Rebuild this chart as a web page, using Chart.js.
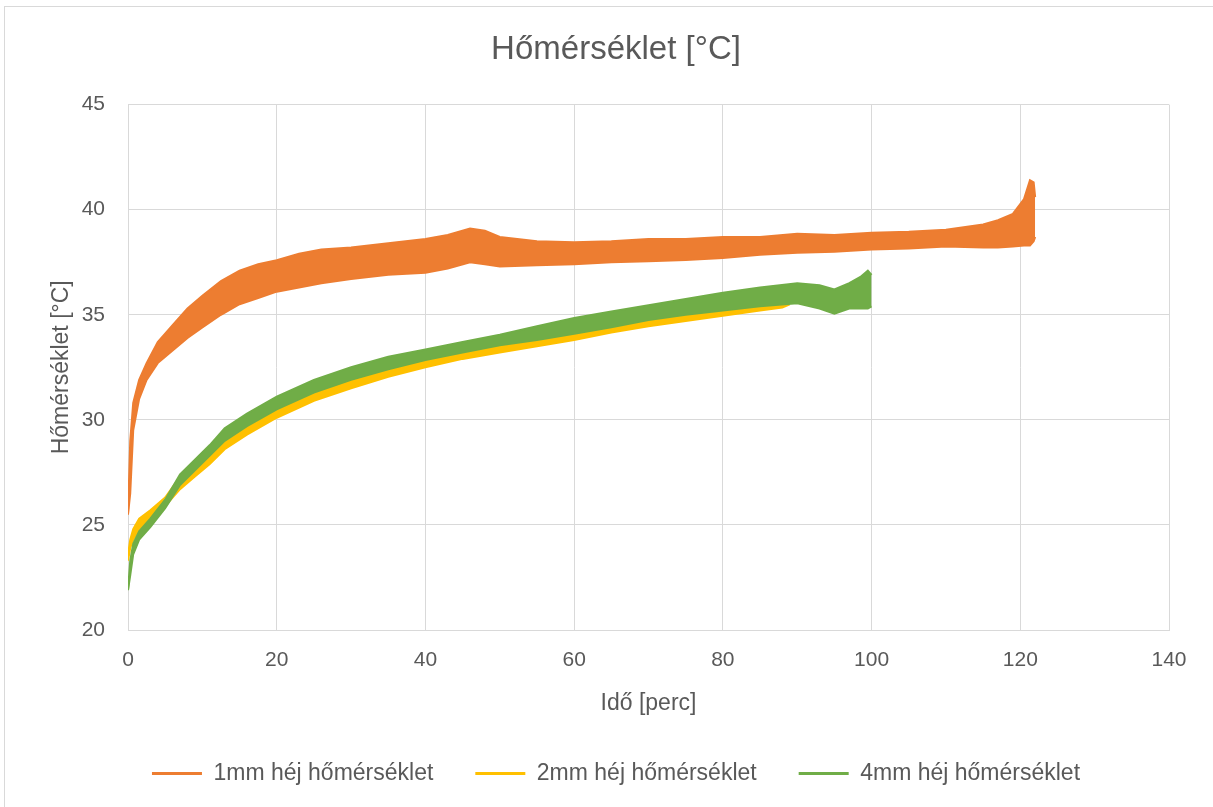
<!DOCTYPE html>
<html>
<head>
<meta charset="utf-8">
<script src="https://cdn.jsdelivr.net/npm/chart.js@4.4.1/dist/chart.umd.min.js"></script>
<style>
  html, body { margin: 0; padding: 0; background: #ffffff; }
  #wrap { position: relative; width: 1213px; height: 807px; }
  #frame { position: absolute; left: 4px; top: 6px; width: 1300px; height: 900px;
           border-left: 1px solid #d9d9d9; border-top: 1px solid #d9d9d9; pointer-events: none; }
  canvas { position: absolute; left: 0; top: 0; }
</style>
</head>
<body>
<div id="wrap">
  <canvas id="c" width="1213" height="807"></canvas>
  <div id="frame"></div>
</div>
<script>
// ---- Data (time in minutes, band edges in °C) ----
const seriesLabels = ['1mm héj hőmérséklet', '2mm héj hőmérséklet', '4mm héj hőmérséklet'];

const time1mm = [0, 0.3, 0.7, 1.5, 2.5, 4, 6, 8, 10, 12.5, 15, 17.5, 20, 23, 26, 30, 35, 40, 43, 46, 48, 50, 55, 60, 65, 70, 75, 80, 85, 90, 95, 100, 105, 110, 115, 117, 119, 120.5, 121.3, 121.8, 122];
const upper1mm = [25.5, 29.0, 30.8, 31.9, 32.7, 33.7, 34.5, 35.3, 35.9, 36.6, 37.1, 37.4, 37.6, 37.9, 38.1, 38.2, 38.4, 38.6, 38.8, 39.1, 39.0, 38.7, 38.5, 38.45, 38.5, 38.6, 38.6, 38.7, 38.7, 38.85, 38.8, 38.9, 38.95, 39.05, 39.3, 39.5, 39.8, 40.5, 41.4, 41.3, 40.6];
const lower1mm = [25.5, 26.5, 29.5, 31.0, 31.9, 32.7, 33.3, 33.9, 34.4, 35.0, 35.5, 35.8, 36.1, 36.3, 36.5, 36.7, 36.9, 37.0, 37.2, 37.5, 37.4, 37.3, 37.35, 37.4, 37.5, 37.55, 37.6, 37.7, 37.85, 37.95, 38.0, 38.1, 38.15, 38.25, 38.2, 38.2, 38.25, 38.3, 38.3, 38.5, 38.7];

const time2mm = [0, 0.3, 0.7, 1.5, 3, 5, 7, 9, 11, 13, 16, 20, 25, 30, 35, 40, 45, 50, 55, 60, 65, 70, 75, 80, 85, 88, 89];
const upper2mm = [23.6, 24.3, 24.8, 25.3, 25.7, 26.3, 27.3, 28.0, 28.6, 29.3, 30.0, 30.8, 31.6, 32.2, 32.7, 33.1, 33.4, 33.75, 34.1, 34.4, 34.7, 35.0, 35.3, 35.5, 35.7, 35.8, 35.8];
const lower2mm = [23.3, 23.9, 24.3, 24.8, 25.3, 25.9, 26.7, 27.3, 27.9, 28.6, 29.3, 30.1, 30.9, 31.5, 32.05, 32.5, 32.9, 33.2, 33.5, 33.8, 34.15, 34.45, 34.7, 34.95, 35.2, 35.35, 35.5];

const time4mm = [0, 0.3, 0.7, 1.5, 3, 5, 7, 9, 11, 13, 16, 20, 25, 30, 35, 40, 45, 50, 55, 60, 65, 70, 75, 80, 85, 90, 93, 95, 97, 98.5, 99.5, 100];
const upper4mm = [21.9, 23.3, 24.1, 24.7, 25.3, 26.2, 27.4, 28.1, 28.8, 29.6, 30.3, 31.1, 31.9, 32.5, 33.0, 33.35, 33.7, 34.05, 34.45, 34.85, 35.15, 35.45, 35.75, 36.05, 36.3, 36.5, 36.4, 36.2, 36.5, 36.8, 37.1, 36.9];
const lower4mm = [21.9, 22.6, 23.6, 24.3, 24.9, 25.8, 26.9, 27.6, 28.3, 29.0, 29.7, 30.5, 31.3, 31.9, 32.4, 32.85, 33.2, 33.55, 33.8, 34.1, 34.4, 34.75, 35.0, 35.2, 35.4, 35.55, 35.3, 35.05, 35.3, 35.3, 35.3, 35.4];

const xTicks = [0, 20, 40, 60, 80, 100, 120, 140];
const yTicks = [20, 25, 30, 35, 40, 45];

// ---- Styling ----
const colors = ['#ED7D31', '#FFC000', '#70AD47'];
const textColor = '#595959';
const gridColor = '#D9D9D9';
const fontFamily = "'Liberation Sans', Arial, sans-serif";

function pts(xs, ys) { return xs.map((x, i) => ({ x: x, y: ys[i] })); }

const bands = [
  [time1mm, upper1mm, lower1mm],
  [time2mm, upper2mm, lower2mm],
  [time4mm, upper4mm, lower4mm]
];
const drawOrder = [3, 2, 1];

const datasets = [];
bands.forEach((b, i) => {
  datasets.push({
    label: seriesLabels[i],
    data: pts(b[0], b[1]),
    borderColor: colors[i],
    backgroundColor: colors[i],
    borderWidth: 2,
    pointRadius: 0,
    tension: 0,
    fill: '+1',
    order: drawOrder[i]
  });
  datasets.push({
    label: '',
    data: pts(b[0], b[2]),
    borderColor: colors[i],
    backgroundColor: colors[i],
    borderWidth: 2,
    pointRadius: 0,
    tension: 0,
    fill: false,
    order: drawOrder[i]
  });
});

new Chart(document.getElementById('c'), {
  type: 'line',
  data: { datasets: datasets },
  options: {
    responsive: false,
    animation: false,
    devicePixelRatio: 1,
    layout: { padding: { left: 19, right: 0, top: 0, bottom: 12 } },
    plugins: {
      title: {
        display: true,
        text: 'Hőmérséklet [°C]',
        color: textColor,
        font: { family: fontFamily, size: 33, weight: 'normal' },
        padding: { top: 30, bottom: 35 }
      },
      legend: {
        position: 'bottom',
        labels: {
          color: textColor,
          font: { family: fontFamily, size: 23 },
          boxWidth: 50,
          boxHeight: 3,
          padding: 42,
          filter: (item) => item.datasetIndex % 2 === 0,
          generateLabels: (chart) => chart.data.datasets.map((d, i) => ({
            text: d.label,
            fillStyle: d.borderColor,
            strokeStyle: d.borderColor,
            lineWidth: 0,
            hidden: false,
            datasetIndex: i,
            fontColor: textColor
          }))
        }
      },
      tooltip: { enabled: false }
    },
    scales: {
      x: {
        type: 'linear',
        min: 0,
        max: 140,
        afterBuildTicks: (s) => { s.ticks = xTicks.map(v => ({ value: v })); },
        afterFit: (s) => { s.height = 90; },
        grid: { color: gridColor, lineWidth: 1, drawTicks: false },
        border: { color: gridColor, width: 1 },
        ticks: {
          color: textColor,
          font: { family: fontFamily, size: 21 },
          padding: 18,
          maxRotation: 0
        },
        title: {
          display: true,
          text: 'Idő [perc]',
          color: textColor,
          font: { family: fontFamily, size: 23 },
          padding: { top: 0, bottom: 3 }
        }
      },
      y: {
        type: 'linear',
        position: 'left',
        min: 20,
        max: 45,
        afterBuildTicks: (s) => { s.ticks = yTicks.map(v => ({ value: v })); },
        afterFit: (s) => { s.width = 109; },
        grid: { color: gridColor, lineWidth: 1, drawTicks: false },
        border: { color: gridColor, width: 1 },
        ticks: {
          color: textColor,
          font: { family: fontFamily, size: 21 },
          padding: 23
        },
        title: {
          display: true,
          text: 'Hőmérséklet [°C]',
          color: textColor,
          font: { family: fontFamily, size: 23 },
          padding: { top: 29, bottom: 0 }
        }
      },
      yRight: {
        type: 'linear',
        position: 'right',
        display: true,
        min: 20,
        max: 45,
        afterFit: (s) => { s.width = 44; },
        grid: { display: false, drawTicks: false },
        border: { display: false },
        ticks: { display: false }
      }
    }
  }
});
</script>
</body>
</html>
